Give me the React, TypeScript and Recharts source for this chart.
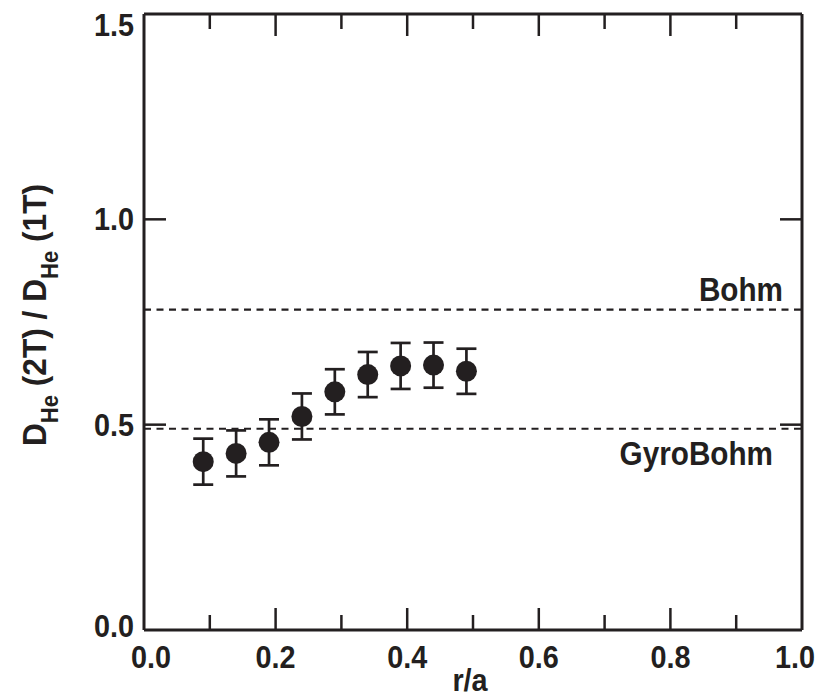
import React from 'react';
import { ScatterChart, Scatter, XAxis, YAxis, ErrorBar, ReferenceLine } from 'recharts';

// r/a positions and measured D_He(2T)/D_He(1T) ratio
const rOverA = [0.09, 0.14, 0.19, 0.24, 0.29, 0.34, 0.39, 0.44, 0.49];
const ratio = [0.41, 0.43, 0.457, 0.52, 0.58, 0.622, 0.643, 0.645, 0.63];
const ratioErr = [0.056, 0.056, 0.056, 0.056, 0.055, 0.055, 0.056, 0.055, 0.055];

const xTicks = [0, 0.1, 0.2, 0.3, 0.4, 0.5, 0.6, 0.7, 0.8, 0.9, 1.0];
const yTicks = [0, 0.5, 1.0, 1.5];

const BOHM = 0.78;
const GYRO_BOHM = 0.49;

const INK = '#231f20';
const FONT = '"Liberation Sans", Arial, sans-serif';

const data = rOverA.map((x, i) => ({ x, y: ratio[i], err: ratioErr[i] }));

const isMajorX = (v: number) => Math.round(v * 10) % 2 === 0;

// bold text squeezed a little sideways, like the condensed face of the original
const Txt = ({ x, y, anchor = 'middle', size = 32, sx = 0.9, children }: any) => (
  <text
    transform={`translate(${x},${y}) scale(${sx},1)`}
    textAnchor={anchor}
    fontFamily={FONT}
    fontWeight="bold"
    fontSize={size}
    fill={INK}
  >
    {children}
  </text>
);

const BottomTick = (props: any) => {
  const { x, y, payload } = props;
  const v = payload.value;
  const major = isMajorX(v);
  let lx = x;
  if (v === 0) lx = x + 7;
  if (v === 1) lx = x - 7;
  return (
    <g>
      {v !== 0 && v !== 1 && (
        <line x1={x} y1={y} x2={x} y2={y - (major ? 22 : 15)} stroke={INK} strokeWidth={2.5} />
      )}
      {major && <Txt x={lx} y={y + 38}>{v.toFixed(1)}</Txt>}
    </g>
  );
};

const TopTick = (props: any) => {
  const { x, y, payload } = props;
  const v = payload.value;
  if (v === 0 || v === 1) return <g />;
  const major = isMajorX(v);
  return <line x1={x} y1={y} x2={x} y2={y + (major ? 22 : 15)} stroke={INK} strokeWidth={2.5} />;
};

const LeftTick = (props: any) => {
  const { x, y, payload } = props;
  const v = payload.value;
  let by = y + 11;
  if (v === 1.5) by = y + 22;
  if (v === 0) by = y + 7;
  return (
    <g>
      {v !== 0 && v !== 1.5 && <line x1={x} y1={y} x2={x + 22} y2={y} stroke={INK} strokeWidth={2.5} />}
      <Txt x={x - 10} y={by} anchor="end">{v.toFixed(1)}</Txt>
    </g>
  );
};

const RightTick = (props: any) => {
  const { x, y, payload } = props;
  const v = payload.value;
  if (v === 0 || v === 1.5) return <g />;
  return <line x1={x} y1={y} x2={x - 22} y2={y} stroke={INK} strokeWidth={2.5} />;
};

const YLabel = (props: any) => {
  const vb = props.viewBox;
  const cx = vb.x + 46;
  const cy = vb.y + vb.height / 2 - 7;
  return (
    <text
      transform={`translate(${cx},${cy}) rotate(-90) scale(0.96,1)`}
      textAnchor="middle"
      fontFamily={FONT}
      fontWeight="bold"
      fontSize={33}
      fill={INK}
    >
      <tspan>D</tspan>
      <tspan fontSize={23} dy={12}>He</tspan>
      <tspan dy={-12}> (2T) / D</tspan>
      <tspan fontSize={23} dy={12}>He</tspan>
      <tspan dy={-12}> (1T)</tspan>
    </text>
  );
};

const XLabel = (props: any) => {
  const vb = props.viewBox;
  return <Txt x={vb.x + vb.width / 2 - 3} y={vb.y + 61}>r/a</Txt>;
};

const lineLabel = (text: string, dx: number, dy: number) => (props: any) => {
  const vb = props.viewBox;
  return (
    <Txt x={vb.x + vb.width - dx} y={vb.y + dy} anchor="end" size={33}>
      {text}
    </Txt>
  );
};

const Dot = (props: any) => <circle cx={props.cx} cy={props.cy} r={10.5} fill={INK} />;
const NoDot = () => <g />;

export default function App() {
  return (
    <div style={{ position: 'absolute', left: 0, top: 0, background: '#fff' }}>
      <ScatterChart width={837} height={698} margin={{ top: 13, right: 34, bottom: 0, left: 0 }}>
        <XAxis
          type="number"
          dataKey="x"
          domain={[0, 1]}
          ticks={xTicks}
          interval={0}
          height={68}
          tickSize={0}
          tickMargin={0}
          tick={<BottomTick />}
          axisLine={{ stroke: INK, strokeWidth: 3 }}
          label={<XLabel />}
        />
        <XAxis
          xAxisId="top"
          orientation="top"
          type="number"
          dataKey="x"
          domain={[0, 1]}
          ticks={xTicks}
          interval={0}
          height={1}
          tickSize={0}
          tickMargin={0}
          tick={<TopTick />}
          axisLine={{ stroke: INK, strokeWidth: 3 }}
        />
        <YAxis
          type="number"
          dataKey="y"
          domain={[0, 1.5]}
          ticks={yTicks}
          interval={0}
          width={144}
          tickSize={0}
          tickMargin={0}
          tick={<LeftTick />}
          axisLine={{ stroke: INK, strokeWidth: 3 }}
          label={<YLabel />}
        />
        <YAxis
          yAxisId="right"
          orientation="right"
          type="number"
          dataKey="y"
          domain={[0, 1.5]}
          ticks={yTicks}
          interval={0}
          width={1}
          tickSize={0}
          tickMargin={0}
          tick={<RightTick />}
          axisLine={{ stroke: INK, strokeWidth: 3 }}
        />
        <ReferenceLine
          y={BOHM}
          stroke={INK}
          strokeWidth={2.2}
          strokeDasharray="7 5.5"
          label={lineLabel('Bohm', 19, -9)}
        />
        <ReferenceLine
          y={GYRO_BOHM}
          stroke={INK}
          strokeWidth={2.2}
          strokeDasharray="7 5.5"
          label={lineLabel('GyroBohm', 29, 36)}
        />
        {/* invisible copy so the top/right frame axes get a scale */}
        <Scatter data={data} xAxisId="top" yAxisId="right" shape={<NoDot />} isAnimationActive={false} />
        <Scatter data={data} shape={<Dot />} isAnimationActive={false}>
          <ErrorBar dataKey="err" direction="y" width={10} stroke={INK} strokeWidth={2.7} />
        </Scatter>
      </ScatterChart>
    </div>
  );
}
